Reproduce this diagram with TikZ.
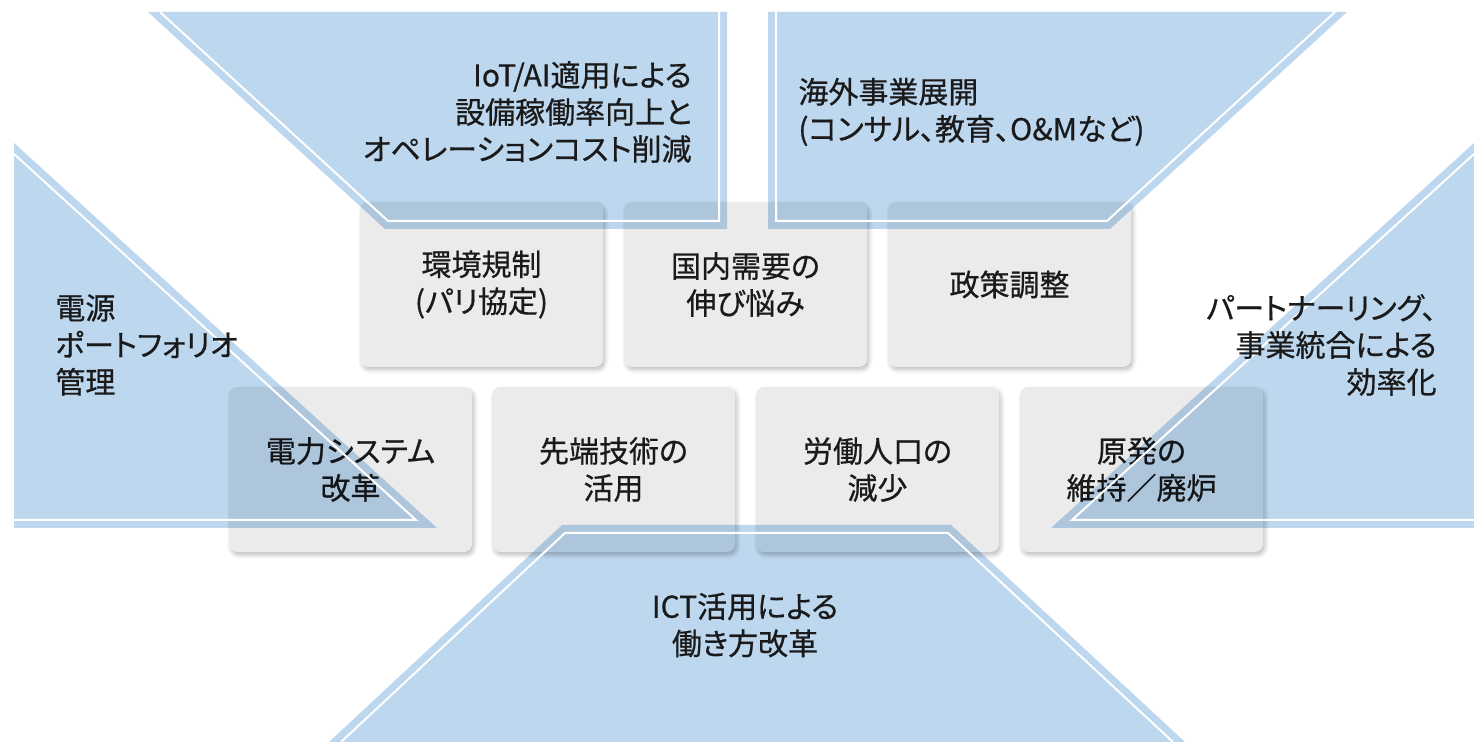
\documentclass[tikz,border=0pt]{standalone}
\usepackage{fontspec}
\setmainfont{Noto Sans CJK JP}[CharacterWidth=AlternateProportional, FakeBold=0.6]
\usetikzlibrary{shadows.blur}
\definecolor{fieldblue}{RGB}{189,215,238}
\definecolor{boxgray}{RGB}{235,235,235}
\definecolor{inkblack}{RGB}{26,26,26}

\begin{document}
\begin{tikzpicture}[x=0.5pt,y=-0.5pt,
	field/.style={fill=fieldblue},
	rim/.style={draw=white, line width=1pt},
	factor/.style={fill=boxgray, rounded corners=4pt,
		blur shadow={shadow xshift=1pt, shadow yshift=-1.5pt, shadow blur radius=2pt, shadow opacity=25},
		minimum width=121.5pt, minimum height=82.5pt, align=center, text=inkblack,
		font=\fontsize{15}{18.5}\selectfont},
	strategy/.style={inner sep=0pt, text=inkblack, font=\fontsize{15}{18.5}\selectfont}]
		\useasboundingbox (0,0) rectangle (1474,742);
		% environment factors
		\node[factor] (env) at (481.5,284.5) {環境規制\\(パリ協定)};
		\node[factor] (demand) at (745.5,284.5) {国内需要の\\伸び悩み};
		\node[factor] (policy) at (1009.5,284.5) {政策調整};
		\node[factor] (reform) at (350.5,469.5) {電力システム\\改革};
		\node[factor] (tech) at (613.5,469.5) {先端技術の\\活用};
		\node[factor] (labor) at (877.5,469.5) {労働人口の\\減少};
		\node[factor] (nuclear) at (1141.5,469.5) {原発の\\維持／廃炉};
		% strategy fields
		\begin{scope}[blend mode=multiply]
		\fill[field] (148,12) -- (727,12) -- (727,229) -- (385,229) -- cycle;
		\fill[field] (1347,12) -- (768,12) -- (768,229) -- (1110,229) -- cycle;
		\fill[field] (14,143) -- (437,528) -- (14,528) -- cycle;
		\fill[field] (1474,143) -- (1051,528) -- (1474,528) -- cycle;
		\fill[field] (562,525) -- (951,525) -- (1185,742) -- (329,742) -- cycle;
		\end{scope}
		\draw[rim] (160,12) -- (388,221) -- (719,221) -- (719,12);
		\draw[rim] (1335,12) -- (1107,221) -- (776,221) -- (776,12);
		\draw[rim] (14,154) -- (416,520) -- (14,520);
		\draw[rim] (1474,154) -- (1072,520) -- (1474,520);
		\draw[rim] (341,742) -- (565,533) -- (948,533) -- (1173,742);
		% strategy labels
		\node[strategy, anchor=east, align=right] (iot) at (692,112) {IoT/AI適用による\\設備稼働率向上と\\オペレーションコスト削減};
		\node[strategy, anchor=west, align=left] (overseas) at (798,112) {海外事業展開\\(コンサル、教育、O\&Mなど)};
		\node[strategy, anchor=west, align=left] (portfolio) at (55,345) {電源\\ポートフォリオ\\管理};
		\node[strategy, anchor=east, align=right] (partner) at (1437,345) {パートナーリング、\\事業統合による\\効率化};
		\node[strategy, align=center] (ict) at (745,625) {ICT活用による\\働き方改革};
	\end{tikzpicture}
\end{document}
